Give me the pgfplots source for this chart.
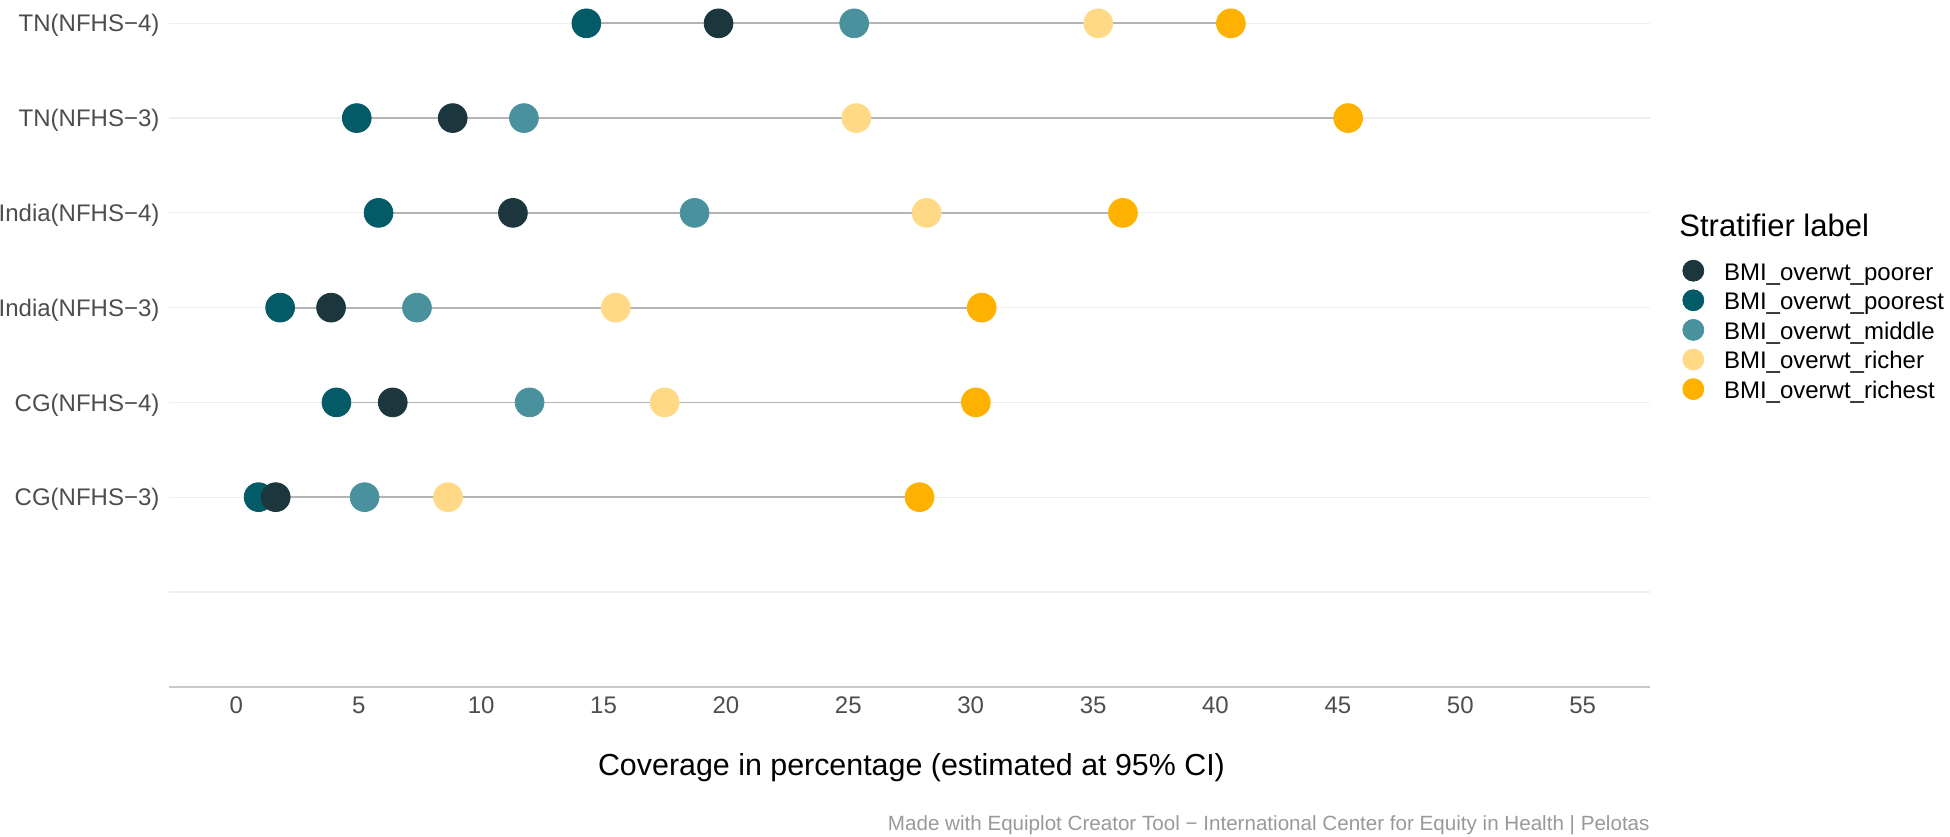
\documentclass[border=0pt]{standalone}
\usepackage{pgfplots}
\usepackage{pgfplotstable}
\pgfplotsset{compat=1.18}
\usepackage{fontspec}
\setmainfont{Liberation Sans}
\definecolor{cpoorer}{HTML}{1B363D}
\definecolor{cpoorest}{HTML}{025B67}
\definecolor{cmiddle}{HTML}{4A919E}
\definecolor{cricher}{HTML}{FFD985}
\definecolor{crichest}{HTML}{FFB100}
\definecolor{cline}{HTML}{B4B4B4}
\definecolor{cgrid}{HTML}{EFEFEF}
\definecolor{caxis}{HTML}{C8C8C8}
\definecolor{ctick}{HTML}{4D4D4D}
\definecolor{ccap}{HTML}{999999}

% x = coverage, y = row (1 = CG(NFHS-3) ... 6 = TN(NFHS-4))
\pgfplotstableread{
x y
14.30 6
4.92 5
5.81 4
1.79 3
4.09 2
0.91 1
}\poorest
\pgfplotstableread{
x y
19.70 6
8.84 5
11.30 4
3.87 3
6.39 2
1.61 1
}\poorer
\pgfplotstableread{
x y
25.24 6
11.75 5
18.72 4
7.38 3
11.98 2
5.24 1
}\middle
\pgfplotstableread{
x y
35.21 6
25.33 5
28.20 4
15.50 3
17.50 2
8.65 1
}\richer
\pgfplotstableread{
x y
40.63 6
45.42 5
36.22 4
30.45 3
30.21 2
27.91 1
}\richest

\begin{document}
\begin{tikzpicture}
\useasboundingbox (0,0) rectangle (975pt,-418pt);
\begin{axis}[
  at={(84.5pt,-343.35pt)}, anchor=south west,
  width=740.5pt, height=343.35pt, scale only axis,
  xmin=-2.75, xmax=57.75, ymin=-1, ymax=6.246,
  axis x line*=bottom, axis y line*=left,
  x axis line style={draw=caxis, line width=1pt},
  y axis line style={draw=none},
  xtick={0,5,...,55}, ytick={0,1,2,3,4,5,6},
  yticklabels={{},{CG(NFHS−3)},{CG(NFHS−4)},{India(NFHS−3)},{India(NFHS−4)},{TN(NFHS−3)},{TN(NFHS−4)}},
  major tick length=0pt,
  ymajorgrids, grid style={cgrid, line width=0.6pt},
  /pgf/number format/assume math mode=true,
  xticklabel style={font=\fontsize{12}{14}\selectfont, text=ctick, inner sep=0pt, anchor=north, yshift=-5pt},
  yticklabel style={font=\fontsize{12}{14}\selectfont, text=ctick, inner sep=0pt, anchor=base east, xshift=-4.6pt, yshift=-4.3pt},
  clip=false,
  legend image code/.code={\draw[#1] plot coordinates {(0pt,4.65pt)};},
  legend style={at={(1.02215,0.6211)}, anchor=north west, draw=none, fill=none,
    inner sep=0pt, outer sep=0pt, font=\fontsize{12}{14}\selectfont,
    column sep={15.35pt,between origins}, row sep={14.8pt,between origins},
    cells={anchor=base west}, nodes={inner sep=0pt}},
]
% connecting segments
\addplot[cline, line width=0.9pt, forget plot] coordinates {(14.30,6) (40.63,6)};
\addplot[cline, line width=0.9pt, forget plot] coordinates {(4.92,5) (45.42,5)};
\addplot[cline, line width=0.9pt, forget plot] coordinates {(5.81,4) (36.22,4)};
\addplot[cline, line width=0.9pt, forget plot] coordinates {(1.79,3) (30.45,3)};
\addplot[cline, line width=0.9pt, forget plot] coordinates {(4.09,2) (30.21,2)};
\addplot[cline, line width=0.9pt, forget plot] coordinates {(0.91,1) (27.91,1)};
% dots
\addplot[only marks, mark=*, mark size=7.2pt, color=cpoorest, forget plot] table {\poorest};
\addplot[only marks, mark=*, mark size=7.2pt, color=cpoorer, forget plot] table {\poorer};
\addplot[only marks, mark=*, mark size=7.2pt, color=cmiddle, forget plot] table {\middle};
\addplot[only marks, mark=*, mark size=7.2pt, color=cricher, forget plot] table {\richer};
\addplot[only marks, mark=*, mark size=7.2pt, color=crichest, forget plot] table {\richest};
% legend
\addlegendimage{only marks, mark=*, mark size=5.25pt, color=cpoorer}
\addlegendentry{BMI\_overwt\_poorer}
\addlegendimage{only marks, mark=*, mark size=5.25pt, color=cpoorest}
\addlegendentry{BMI\_overwt\_poorest}
\addlegendimage{only marks, mark=*, mark size=5.25pt, color=cmiddle}
\addlegendentry{BMI\_overwt\_middle}
\addlegendimage{only marks, mark=*, mark size=5.25pt, color=cricher}
\addlegendentry{BMI\_overwt\_richer}
\addlegendimage{only marks, mark=*, mark size=5.25pt, color=crichest}
\addlegendentry{BMI\_overwt\_richest}
\end{axis}
\node[anchor=base west, inner sep=0pt, font=\fontsize{15.5}{18}\selectfont] at (839.5pt,-118.35pt) {Stratifier label};
\node[anchor=base, inner sep=0pt, font=\fontsize{15.2}{18}\selectfont] at (455.75pt,-387.5pt) {Coverage in percentage (estimated at 95\% CI)};
\node[anchor=base east, inner sep=0pt, font=\fontsize{10.3}{12}\selectfont, text=ccap] at (825pt,-415pt) {Made with Equiplot Creator Tool − International Center for Equity in Health | Pelotas};
\end{tikzpicture}
\end{document}
